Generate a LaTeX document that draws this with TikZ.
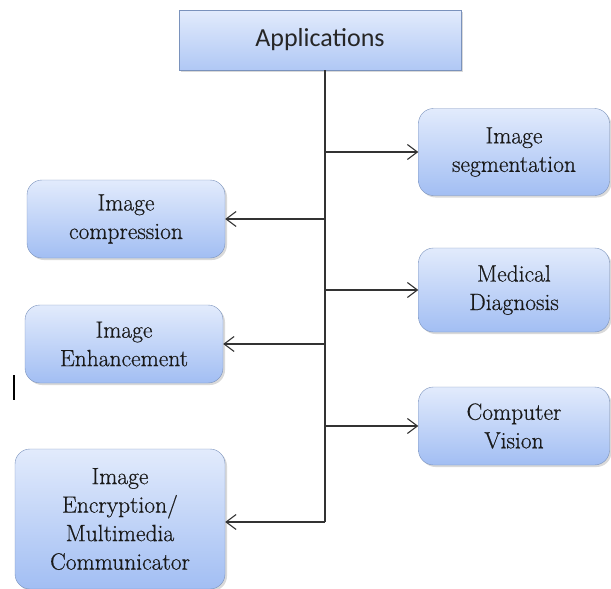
\documentclass[tikz,border=0pt]{standalone}
\usepackage{fontspec}
\newfontfamily\appfont{Carlito}
\newfontfamily\labelfont{Latin Modern Roman}[FakeBold=0.5]
\usetikzlibrary{arrows.meta,shadows}
\definecolor{boxtop}{HTML}{E2EBFC}
\definecolor{boxbottom}{HTML}{A2BEF3}
\definecolor{boxline}{HTML}{7A92BC}
\definecolor{wire}{HTML}{333333}
\tikzstyle{appbox} = [draw=boxline, top color=boxtop, bottom color=boxbottom!85, rectangle, drop shadow={opacity=0.3, shadow xshift=2pt, shadow yshift=-2pt}, font=\appfont\fontsize{26}{30}\selectfont, text=black!85]
\tikzstyle{usebox} = [draw=boxline, top color=boxtop, bottom color=boxbottom, rectangle, rounded corners=15pt, drop shadow={opacity=0.3, shadow xshift=2pt, shadow yshift=-2pt}, align=center, font=\labelfont\fontsize{23.5}{28.5}\selectfont, text=black!90]
\tikzstyle{branch} = [draw=wire, line width=1.1pt, -{Straight Barb[length=10pt, width=15pt]}]
\tikzstyle{trunkline} = [draw=wire, line width=1.1pt]

\begin{document}
\begin{tikzpicture}[x=1pt, y=-1pt]
\useasboundingbox (0,0) rectangle (611,589);
\node [appbox, minimum width=282, minimum height=60] (apps) at (320,40) {Applications};
\node [usebox, minimum width=191, minimum height=87] (seg) at (514,152) {Image\\segmentation};
\node [usebox, minimum width=191, minimum height=84] (med) at (514,290) {Medical\\Diagnosis};
\node [usebox, minimum width=191, minimum height=78] (cv) at (514,426) {Computer\\Vision};
\node [usebox, minimum width=198, minimum height=78] (comp) at (126,219) {Image\\compression};
\node [usebox, minimum width=198, minimum height=78] (enh) at (124,344) {Image\\Enhancement};
\node [usebox, minimum width=210, minimum height=140] (enc) at (120,519) {Image\\Encryption/\\Multimedia\\Communicator};
\coordinate (trunk) at (325,522);
\draw [trunkline] (apps.south -| trunk) -- (trunk);
\draw [branch] (seg.west -| trunk) -- (seg.west);
\draw [branch] (med.west -| trunk) -- (med.west);
\draw [branch] (cv.west -| trunk) -- (cv.west);
\draw [branch] (comp.east -| trunk) -- (comp.east);
\draw [branch] (enh.east -| trunk) -- (enh.east);
\draw [branch] (trunk) -- (trunk -| enc.east);
\draw [line width=2.5pt] (14,375) -- (14,400);
\end{tikzpicture}
\end{document}
